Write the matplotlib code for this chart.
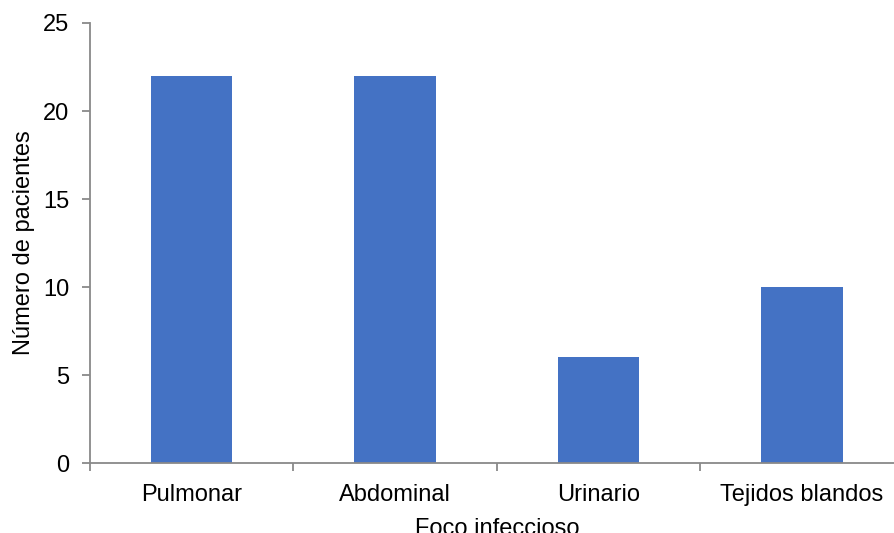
import matplotlib.pyplot as plt
import numpy as np

plt.rcParams['font.family'] = ['Liberation Sans', 'DejaVu Sans']

categorias = ["Pulmonar", "Abdominal", "Urinario", "Tejidos blandos"]
pacientes = [22, 22, 6, 10]
yticks = [0, 5, 10, 15, 20, 25]

azul = "#4472C4"
gris = "#898989"

fig = plt.figure(figsize=(8.94, 5.33), dpi=100)
ax = fig.add_axes([90 / 894, 70 / 533, 813.6 / 894, 440 / 533])

x = np.arange(len(categorias))
ax.bar(x, pacientes, width=0.4, color=azul, zorder=2)

ax.set_xlim(-0.5, len(categorias) - 0.5)
ax.set_ylim(0, 25)
ax.set_yticks(yticks)

# etiquetas centradas, marcas entre categorías
ax.set_xticks(x)
ax.set_xticklabels(categorias)
ax.set_xticks(np.arange(len(categorias) + 1) - 0.5, minor=True)
ax.tick_params(axis='x', which='major', length=0, pad=15, labelsize=17)
ax.tick_params(axis='x', which='minor', length=6, width=1.3, color=gris)
ax.tick_params(axis='y', length=6, width=1.3, color=gris, pad=9, labelsize=17)

for lado in ['top', 'right']:
    ax.spines[lado].set_visible(False)
for lado in ['left', 'bottom']:
    ax.spines[lado].set_color(gris)
    ax.spines[lado].set_linewidth(1.3)

ax.set_ylabel("Número de pacientes", fontsize=17, labelpad=6)
ax.set_xlabel("Foco infeccioso", fontsize=17, labelpad=9)

fig.savefig("out.png", dpi=100)
